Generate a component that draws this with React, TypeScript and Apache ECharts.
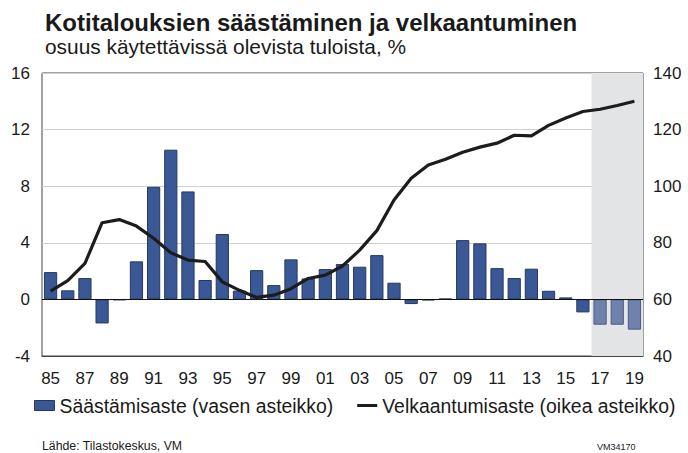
import React, { useEffect, useRef } from "react";
import * as echarts from "echarts";

const years = [
  "85", "86", "87", "88", "89", "90", "91", "92", "93", "94",
  "95", "96", "97", "98", "99", "00", "01", "02", "03", "04",
  "05", "06", "07", "08", "09", "10", "11", "12", "13", "14",
  "15", "16", "17", "18", "19",
];

const savingRate = [
  1.93, 0.64, 1.51, -1.7, -0.05, 2.69, 7.96, 10.58, 7.63, 1.37,
  4.62, 0.62, 2.07, 1.01, 2.83, 1.48, 2.14, 2.5, 2.31, 3.13,
  1.18, -0.33, -0.07, 0.05, 4.19, 3.96, 2.21, 1.51, 2.17, 0.61,
  0.14, -0.92, -1.79, -1.79, -2.14,
];

const debtRatio = [
  62.9, 66.6, 72.7, 87.1, 88.2, 85.9, 81.6, 76.5, 73.9, 73.4,
  66.2, 63.2, 60.7, 61.5, 63.8, 67.4, 68.6, 71.8, 77.4, 84.3,
  95.1, 102.8, 107.5, 109.5, 112.0, 113.8, 115.2, 118.0, 117.8, 121.5,
  124.1, 126.4, 127.2, 128.5, 130.0,
];

const forecastYears = ["17", "18", "19"];

const titleText = "Kotitalouksien säästäminen ja velkaantuminen";
const subtitleText = "osuus käytettävissä olevista tuloista, %";
const savingName = "Säästämisaste (vasen asteikko)";
const debtName = "Velkaantumisaste (oikea asteikko)";
const sourceText = "Lähde: Tilastokeskus, VM";
const codeText = "VM34170";

const FONT = "'Liberation Sans', Arial, Helvetica, sans-serif";
const BAR = "#3a5796";
const BAR_BORDER = "#26385f";
const BAR_FC = "#6e82ad";
const BAR_FC_BORDER = "#4d5d80";

export default function App() {
  const ref = useRef<HTMLDivElement>(null);
  useEffect(() => {
    if (!ref.current) return;
    const chart = echarts.init(ref.current, undefined, { renderer: "svg" });
    const barData = savingRate.map((v, i) =>
      forecastYears.includes(years[i])
        ? { value: v, itemStyle: { color: BAR_FC, borderColor: BAR_FC_BORDER } }
        : v
    );
    // band positions on a hidden value axis spanning the category bands
    const fcStart = years.indexOf(forecastYears[0]);
    const fcEnd = years.indexOf(forecastYears[forecastYears.length - 1]) + 1;
    chart.setOption({
      animation: false,
      textStyle: { fontFamily: FONT },
      title: [
        {
          text: titleText,
          left: 40,
          top: 5,
          textStyle: { fontFamily: FONT, fontSize: 24, fontWeight: "bold", color: "#1a1a1a" },
        },
        {
          text: subtitleText,
          left: 40,
          top: 31,
          textStyle: { fontFamily: FONT, fontSize: 20.9, fontWeight: "normal", color: "#1a1a1a" },
        },
      ],
      legend: {
        left: 29,
        top: 391,
        itemWidth: 20,
        itemHeight: 10,
        itemGap: 24,
        textStyle: { fontFamily: FONT, fontSize: 19.4, color: "#1a1a1a" },
        data: [
          { name: savingName, icon: "rect", itemStyle: { color: BAR, borderColor: BAR_BORDER, borderWidth: 1 } },
          { name: debtName, icon: "path://M0,0H20V3H0Z", itemStyle: { color: "#1c1c1c" } },
        ],
      },
      grid: {
        left: 42,
        right: 45,
        top: 73,
        bottom: 97,
        show: true,
        borderColor: "#444",
        borderWidth: 1,
        backgroundColor: "transparent",
      },
      xAxis: [
        {
          type: "category",
          data: years,
          boundaryGap: true,
          axisLine: { onZero: false, show: true, lineStyle: { color: "#444" } },
          axisTick: { show: false },
          axisLabel: {
            interval: 1,
            margin: 14,
            fontSize: 17,
            color: "#1a1a1a",
            fontFamily: FONT,
          },
        },
        {
          type: "value",
          min: 0,
          max: years.length,
          show: false,
          splitLine: { show: false },
        },
      ],
      yAxis: [
        {
          type: "value",
          min: -4,
          max: 16,
          interval: 4,
          axisLine: { show: false },
          axisTick: { show: false },
          axisLabel: { fontSize: 17, color: "#1a1a1a", margin: 12, fontFamily: FONT },
          splitLine: { show: true, lineStyle: { color: "#cfcfcf", width: 1 } },
        },
        {
          type: "value",
          min: 40,
          max: 140,
          interval: 20,
          position: "right",
          axisLine: { show: false },
          axisTick: { show: false },
          axisLabel: { fontSize: 17, color: "#1a1a1a", margin: 10, fontFamily: FONT },
          splitLine: { show: false },
        },
      ],
      series: [
        {
          name: "ennuste",
          type: "line",
          xAxisIndex: 1,
          yAxisIndex: 0,
          data: [[fcStart, -4], [fcEnd, -4]],
          symbol: "none",
          silent: true,
          lineStyle: { opacity: 0 },
          z: 1,
          markArea: {
            silent: true,
            itemStyle: { color: "#e3e4e6" },
            data: [[{ xAxis: fcStart }, { xAxis: fcEnd }]],
          },
        },
        {
          name: savingName,
          type: "bar",
          data: barData,
          yAxisIndex: 0,
          barCategoryGap: "23%",
          itemStyle: { color: BAR, borderColor: BAR_BORDER, borderWidth: 1 },
          markLine: {
            silent: true,
            symbol: "none",
            label: { show: false },
            lineStyle: { color: "#111", width: 1, type: "solid" },
            data: [{ yAxis: 0 }],
          },
        },
        {
          name: debtName,
          type: "line",
          data: debtRatio,
          yAxisIndex: 1,
          symbol: "none",
          z: 5,
          lineStyle: { color: "#1c1c1c", width: 3.2 },
          itemStyle: { color: "#1c1c1c" },
        },
      ],
      graphic: [
        {
          type: "text",
          left: 42,
          top: 440,
          style: { text: sourceText, font: `12.3px ${FONT}`, fill: "#1a1a1a" },
        },
        {
          type: "text",
          left: 597,
          top: 442,
          style: { text: codeText, font: `9px ${FONT}`, fill: "#1a1a1a" },
        },
      ],
    });
    return () => chart.dispose();
  }, []);
  return <div ref={ref} style={{ width: 688, height: 453, position: "absolute", left: 0, top: 0 }} />;
}
